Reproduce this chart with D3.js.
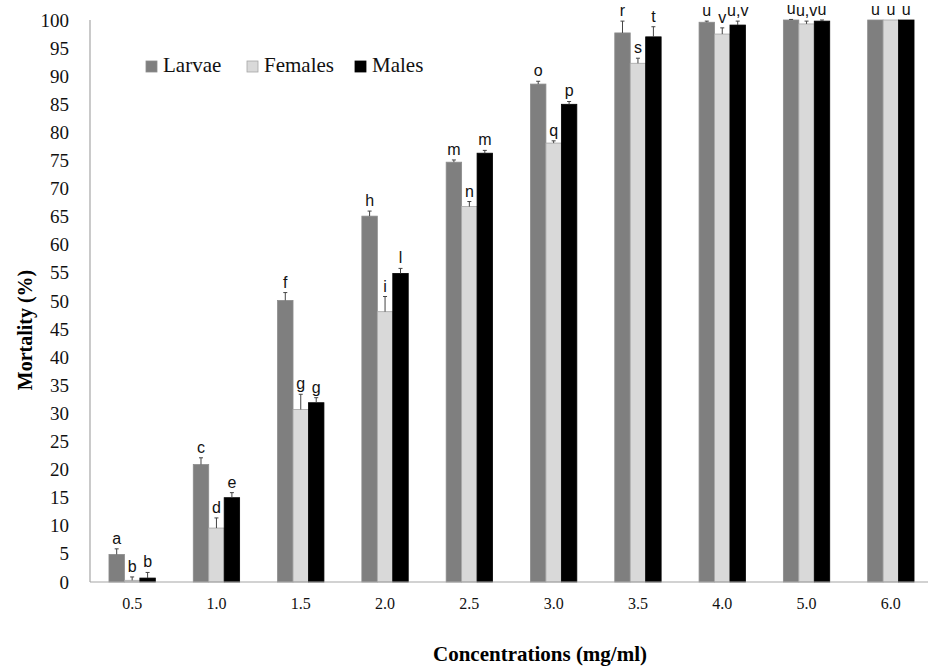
<!DOCTYPE html>
<html>
<head>
<meta charset="utf-8">
<script src="https://cdn.jsdelivr.net/npm/d3@7"></script>
<style>
  body { margin: 0; background: #fff; }
  svg { display: block; }
</style>
</head>
<body>
<svg id="chart" width="928" height="669"></svg>
<script>
// data
var concentrations = ["0.5", "1.0", "1.5", "2.0", "2.5", "3.0", "3.5", "4.0", "5.0", "6.0"];
var seriesNames = ["Larvae", "Females", "Males"];

var larvae   = [4.9, 20.9, 50.1, 65.1, 74.7, 88.6, 97.7, 99.6, 100, 100];
var females  = [0.3, 9.6, 30.7, 48.1, 66.8, 78.1, 92.3, 97.5, 99.3, 100];
var males    = [0.7, 15.0, 31.9, 54.9, 76.3, 85.0, 97.0, 99.1, 99.8, 100];

var larvaeErr  = [1.0, 1.2, 1.4, 0.9, 0.4, 0.5, 2.1, 0.2, 0.1, 0];
var femalesErr = [0.6, 1.8, 2.7, 2.7, 0.9, 0.4, 0.9, 1.1, 0.5, 0];
var malesErr   = [1.0, 0.9, 0.9, 0.9, 0.5, 0.5, 1.8, 0.7, 0.2, 0];

var larvaeLetters  = ["a", "c", "f", "h", "m", "o", "r", "u", "u", "u"];
var femalesLetters = ["b", "d", "g", "i", "n", "q", "s", "v", "u,v", "u"];
var malesLetters   = ["b", "e", "g", "l", "m", "p", "t", "u,v", "u", "u"];

var yTicks = d3.range(0, 101, 5);

var colors = {Larvae: "#7f7f7f", Females: "#d9d9d9", Males: "#000000"};
var strokes = {Larvae: "#8c8c8c", Females: "#a6a6a6", Males: "#000000"};

var svg = d3.select("#chart");
var serif = "'Liberation Serif', 'Times New Roman', serif";
var sans = "'Liberation Sans', Arial, sans-serif";

var plotLeft = 90, plotTop = 20, plotBottom = 582, plotRight = 933;

var x0 = d3.scaleBand()
    .domain(concentrations)
    .range([plotLeft, plotRight])
    .paddingInner(0.45)
    .paddingOuter(0.225);

var x1 = d3.scaleBand()
    .domain(seriesNames)
    .range([0, x0.bandwidth()]);

var y = d3.scaleLinear().domain([0, 100]).range([plotBottom, plotTop]);

var rows = [];
concentrations.forEach(function(c, i) {
    rows.push({c: c, s: "Larvae", v: larvae[i], e: larvaeErr[i], l: larvaeLetters[i]});
    rows.push({c: c, s: "Females", v: females[i], e: femalesErr[i], l: femalesLetters[i]});
    rows.push({c: c, s: "Males", v: males[i], e: malesErr[i], l: malesLetters[i]});
});

// y axis labels
var yAxis = svg.append("g")
    .attr("transform", "translate(" + plotLeft + ",0)")
    .call(d3.axisLeft(y).tickValues(yTicks).tickSize(0).tickPadding(21));
yAxis.select(".domain").remove();
yAxis.selectAll("text")
    .attr("font-family", serif)
    .attr("font-size", 19)
    .attr("fill", "#111");

// bars
svg.append("g").attr("class", "bars")
    .selectAll("rect")
    .data(rows)
    .enter()
    .append("rect")
    .attr("x", function(d) { return x0(d.c) + x1(d.s); })
    .attr("y", function(d) { return y(d.v); })
    .attr("width", x1.bandwidth())
    .attr("height", function(d) { return y(0) - y(d.v); })
    .attr("fill", function(d) { return colors[d.s]; })
    .attr("stroke", function(d) { return strokes[d.s]; })
    .attr("stroke-width", 0.8);

// error bars (upper half only)
var err = svg.append("g").attr("class", "errs")
    .selectAll("g")
    .data(rows.filter(function(d) { return d.e > 0; }))
    .enter()
    .append("g");
err.append("line")
    .attr("x1", function(d) { return x0(d.c) + x1(d.s) + x1.bandwidth() / 2; })
    .attr("x2", function(d) { return x0(d.c) + x1(d.s) + x1.bandwidth() / 2; })
    .attr("y1", function(d) { return y(d.v); })
    .attr("y2", function(d) { return y(d.v + d.e); })
    .attr("stroke", "#444")
    .attr("stroke-width", 1);
err.append("line")
    .attr("x1", function(d) { return x0(d.c) + x1(d.s) + x1.bandwidth() / 2 - 2; })
    .attr("x2", function(d) { return x0(d.c) + x1(d.s) + x1.bandwidth() / 2 + 2; })
    .attr("y1", function(d) { return y(d.v + d.e); })
    .attr("y2", function(d) { return y(d.v + d.e); })
    .attr("stroke", "#444")
    .attr("stroke-width", 1);

// significance letters
svg.append("g").attr("class", "letters")
    .selectAll("text")
    .data(rows)
    .enter()
    .append("text")
    .attr("x", function(d) { return x0(d.c) + x1(d.s) + x1.bandwidth() / 2; })
    .attr("y", function(d) { return y(d.v + d.e) - 5; })
    .attr("text-anchor", "middle")
    .attr("font-family", sans)
    .attr("font-size", 16)
    .attr("fill", "#111")
    .text(function(d) { return d.l; });

// axis lines
svg.append("line")
    .attr("x1", plotLeft).attr("x2", plotLeft)
    .attr("y1", plotTop).attr("y2", plotBottom)
    .attr("stroke", "#a6a6a6").attr("stroke-width", 1.2);
svg.append("line")
    .attr("x1", plotLeft).attr("x2", 928)
    .attr("y1", plotBottom).attr("y2", plotBottom)
    .attr("stroke", "#a6a6a6").attr("stroke-width", 1.2);

// x tick labels
var xAxis = svg.append("g")
    .attr("transform", "translate(0," + plotBottom + ")")
    .call(d3.axisBottom(x0).tickSize(0).tickPadding(16));
xAxis.select(".domain").remove();
xAxis.selectAll("text")
    .attr("font-family", serif)
    .attr("font-size", 16)
    .attr("fill", "#111");

// axis titles
svg.append("text")
    .attr("x", 540).attr("y", 661)
    .attr("text-anchor", "middle")
    .attr("font-family", serif)
    .attr("font-weight", "bold")
    .attr("font-size", 21)
    .text("Concentrations (mg/ml)");

svg.append("text")
    .attr("transform", "translate(32,330) rotate(-90)")
    .attr("text-anchor", "middle")
    .attr("font-family", serif)
    .attr("font-weight", "bold")
    .attr("font-size", 20)
    .text("Mortality (%)");

// legend
var legendX = [146, 247, 355];
var legend = svg.append("g").attr("class", "legend")
    .selectAll("g")
    .data(seriesNames)
    .enter()
    .append("g")
    .attr("transform", function(d, i) { return "translate(" + legendX[i] + ",61)"; });
legend.append("rect")
    .attr("width", 11).attr("height", 11)
    .attr("fill", function(d) { return colors[d]; })
    .attr("stroke", function(d) { return strokes[d]; })
    .attr("stroke-width", 0.8);
legend.append("text")
    .attr("x", 17).attr("y", 11)
    .attr("font-family", serif)
    .attr("font-size", 21)
    .attr("fill", "#111")
    .text(function(d) { return d; });
</script>
</body>
</html>
